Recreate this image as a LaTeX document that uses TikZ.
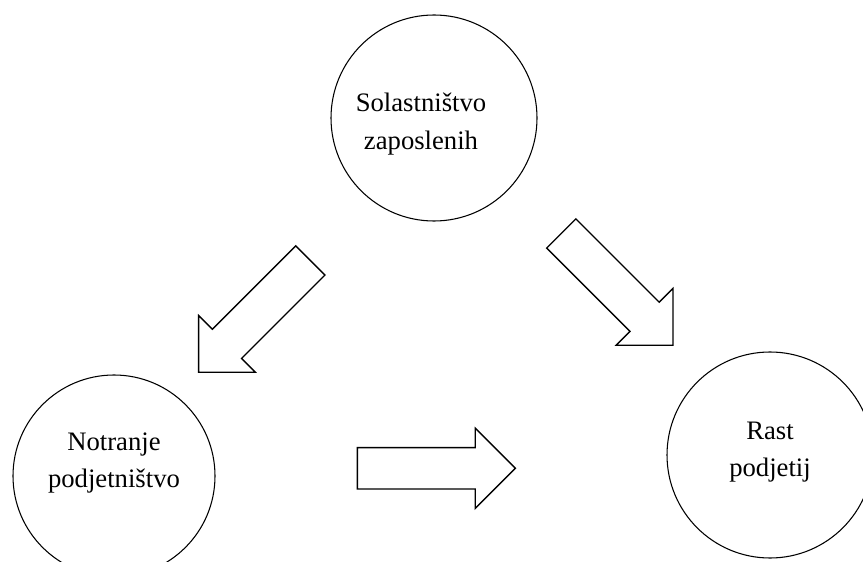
\documentclass[tikz,border=0pt]{standalone}
\usepackage{fontspec}
\setmainfont{Liberation Serif}
\usepackage{tikz}
\usetikzlibrary{shapes.arrows}
\tikzset{
  stage/.style={circle, draw, line width=0.8pt, minimum size=154.5pt, inner sep=0pt},
  stagetext/.style={align=center, inner sep=0pt, font=\fontsize{20}{28}\selectfont},
  blockarrow/.style={single arrow, draw, line width=1pt, inner xsep=0pt, inner ysep=15pt,
                     minimum height=118.5pt, single arrow head extend=14.6pt,
                     single arrow tip angle=90, single arrow head indent=0pt, anchor=tail},
}
\begin{document}
\begin{tikzpicture}[x=0.75pt, y=0.75pt]
\useasboundingbox (0,0) rectangle (863,561);
%Nodes
\node[stage] (ownership) at (434,443) {};
\node[stage, minimum size=151.5pt] (intra) at (114,85) {};
\node[stage] (growth) at (770,106) {};
\node[stagetext] (ownershiptxt) at ([shift={(-13,-6)}]ownership.center) {Solastništvo\\zaposlenih};
\node[stagetext] (intratxt) at ([shift={(0,13)}]intra.center) {Notranje\\podjetništvo};
\node[stagetext] (growthtxt) at ([shift={(0,3)}]growth.center) {Rast\\podjetij};

%Arrows
\node[blockarrow, rotate=225] (arrleft) at (310.8,301) {};
\node[blockarrow, rotate=-45] (arrright) at (560.8,328) {};
\node[blockarrow] (arrbottom) at (356.7,92.7) {};
\end{tikzpicture}
\end{document}
